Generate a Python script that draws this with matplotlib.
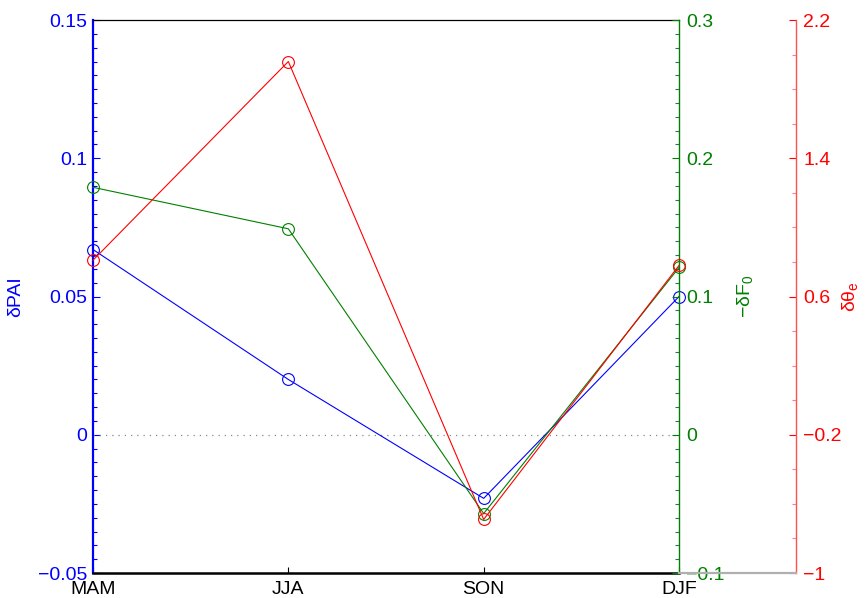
import numpy as np
import matplotlib
matplotlib.use("Agg")
import matplotlib.pyplot as plt
from matplotlib.ticker import MultipleLocator
from matplotlib.lines import Line2D

plt.rcParams['font.family'] = ['Liberation Sans', 'DejaVu Sans']
plt.rcParams['mathtext.fontset'] = 'custom'
plt.rcParams['mathtext.rm'] = 'Liberation Sans'
plt.rcParams['mathtext.it'] = 'Liberation Sans'

# seasonal anomalies
seasons = ["MAM", "JJA", "SON", "DJF"]
d_pai = [0.067, 0.020, -0.023, 0.050]
neg_d_f0 = [0.179, 0.149, -0.057, 0.121]
d_theta_e = [0.81, 1.96, -0.69, 0.78]

BLUE = "#0000ff"
GREEN = "#008000"
RED = "#ff0000"
FS = 14

x = np.arange(1, len(seasons) + 1)

fig = plt.figure(figsize=(8.65, 5.98), dpi=100)
ax1 = fig.add_axes([0.1075, 0.0418, 0.6775, 0.9247])
ax2 = ax1.twinx()
ax3 = ax1.twinx()

mk = dict(marker="o", markersize=8.5, markerfacecolor="none", linewidth=0.8,
          markeredgewidth=0.8, clip_on=False)

ax1.axhline(0, color="#888888", linestyle=(0, (1, 4)), linewidth=0.9)
ax1.plot(x, d_pai, color=BLUE, markeredgecolor=BLUE, zorder=3, **mk)
ax2.plot(x, neg_d_f0, color=GREEN, markeredgecolor=GREEN, **mk)
ax3.plot(x, d_theta_e, color=RED, markeredgecolor=RED, **mk)

ax1.set_xlim(1, 4)
ax1.set_xticks(x)
ax1.set_xticklabels(seasons, fontsize=FS)
ax1.tick_params(axis="x", direction="in", length=4, width=0.8, pad=6)

# left axis
ax1.set_ylim(-0.05, 0.15)
ax1.set_yticks([-0.05, 0, 0.05, 0.1, 0.15])
ax1.set_yticklabels(["\u22120.05", "0", "0.05", "0.1", "0.15"])
ax1.yaxis.set_minor_locator(MultipleLocator(0.005))
ax1.tick_params(axis="y", which="both", direction="in", colors=BLUE,
                labelsize=FS, pad=4)
ax1.tick_params(axis="y", which="major", length=5, width=0.8)
ax1.tick_params(axis="y", which="minor", length=3, width=0.8)
ax1.spines["left"].set_color(BLUE)
ax1.spines["left"].set_linewidth(1.6)
ax1.spines["bottom"].set_linewidth(1.8)
ax1.spines["top"].set_linewidth(0.9)
ax1.spines["right"].set_visible(False)
ax1.set_ylabel("\u03b4PAI", color=BLUE, fontsize=FS)
ax1.yaxis.set_label_coords(-0.118, 0.5)

# green axis on the right edge
ax2.set_ylim(-0.1, 0.3)
ax2.set_yticks([-0.1, 0, 0.1, 0.2, 0.3])
ax2.set_yticklabels(["\u22120.1", "0", "0.1", "0.2", "0.3"])
ax2.yaxis.set_minor_locator(MultipleLocator(0.01))
ax2.tick_params(axis="y", which="both", direction="in", colors=GREEN,
                labelsize=FS, pad=5)
ax2.tick_params(axis="y", which="major", length=5, width=0.8)
ax2.tick_params(axis="y", which="minor", length=3, width=0.8, color="#2f6f6f")
ax2.spines["right"].set_color(GREEN)
ax2.spines["right"].set_linewidth(1.0)
for s in ["left", "top", "bottom"]:
    ax2.spines[s].set_visible(False)
ax2.set_ylabel("\u2212\u03b4F$_0$", color=GREEN, fontsize=FS)
ax2.yaxis.set_label_coords(1.095, 0.5)

# red axis shifted outward
ax3.spines["right"].set_position(("axes", 1.1997))
ax3.set_ylim(-1, 2.2)
ax3.set_yticks([-1, -0.2, 0.6, 1.4, 2.2])
ax3.set_yticklabels(["\u22121", "\u22120.2", "0.6", "1.4", "2.2"])
ax3.yaxis.set_minor_locator(MultipleLocator(0.2))
ax3.tick_params(axis="y", which="both", direction="in", colors=RED,
                labelsize=FS, pad=5)
ax3.tick_params(axis="y", which="major", length=5, width=0.8)
ax3.tick_params(axis="y", which="minor", length=3, width=0.8, color="#ff8080")
ax3.spines["right"].set_color("#ff5050")
ax3.spines["right"].set_linewidth(1.0)
for s in ["left", "top", "bottom"]:
    ax3.spines[s].set_visible(False)
ax3.set_ylabel("\u03b4\u03b8$_e$", color=RED, fontsize=FS)
ax3.yaxis.set_label_coords(1.275, 0.5)

# grey baseline joining the two right axes
fig.add_artist(Line2D([0.785, 0.9202], [0.0418, 0.0418], color="#b0b0b0",
                      linewidth=1.6, transform=fig.transFigure))

fig.savefig("out.png", dpi=100)
